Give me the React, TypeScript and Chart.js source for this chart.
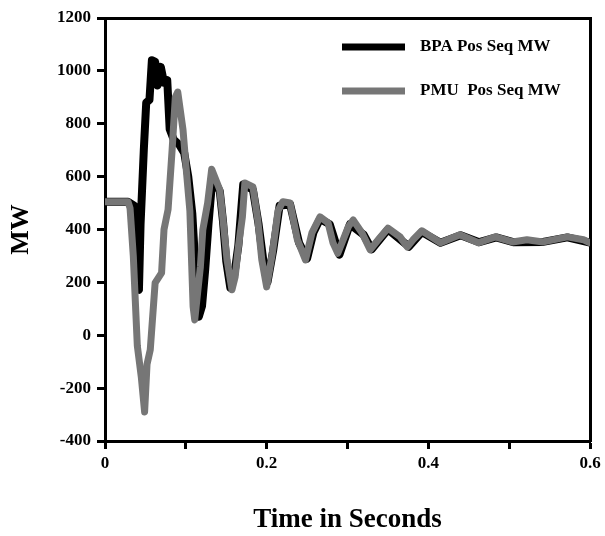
import React, { useEffect, useRef } from "react";
import { Chart, registerables } from "chart.js";

Chart.register(...registerables);

// ---- data ----
const pmuTime = [
  0, 0.0285, 0.031, 0.035, 0.040, 0.045, 0.049, 0.052, 0.056, 0.062, 0.070, 0.073, 0.078,
  0.083, 0.087, 0.090, 0.0965, 0.101, 0.105, 0.109, 0.111, 0.118, 0.121, 0.127, 0.132,
  0.142, 0.146, 0.151, 0.157, 0.161, 0.165, 0.170, 0.173, 0.183, 0.189, 0.194, 0.200,
  0.207, 0.214, 0.220, 0.229, 0.238, 0.248, 0.256, 0.266, 0.276, 0.282, 0.288, 0.301,
  0.307, 0.318, 0.328, 0.338, 0.350, 0.365, 0.374, 0.381, 0.392, 0.415, 0.439, 0.462,
  0.483, 0.504, 0.522, 0.542, 0.572, 0.592, 0.600,
];
const pmuMW = [
  505, 505, 480, 300, -40, -160, -290, -110, -55, 198, 236, 400, 475,
  700, 900, 920, 777, 610, 470, 108, 58, 259, 399, 501, 628,
  550, 436, 285, 172, 221, 334, 448, 576, 561, 436, 285, 183,
  310, 470, 505, 500, 361, 285, 387, 448, 425, 350, 310, 410,
  436, 387, 323, 361, 405, 372, 334, 361, 395, 350, 380, 350,
  372, 353, 361, 353, 372, 361, 350,
];
const bpaTime = [
  0, 0.0285, 0.036, 0.040, 0.042, 0.044, 0.048, 0.051, 0.055, 0.058, 0.062, 0.065, 0.069,
  0.073, 0.077, 0.080, 0.085, 0.092, 0.098, 0.103, 0.108, 0.112, 0.116, 0.120, 0.124,
  0.128, 0.133, 0.142, 0.146, 0.150, 0.155, 0.160, 0.165, 0.171, 0.183, 0.190, 0.196,
  0.201, 0.208, 0.216, 0.229, 0.240, 0.250, 0.258, 0.266, 0.278, 0.290, 0.303, 0.320,
  0.330, 0.350, 0.376, 0.392, 0.415, 0.440, 0.463, 0.484, 0.505, 0.542, 0.572, 0.600,
];
const bpaMW = [
  505, 505, 490, 175, 172, 420, 700, 880, 890, 1040, 1035, 945, 1015,
  955, 965, 780, 740, 720, 690, 600, 460, 250, 70, 110, 250,
  420, 600, 545, 430, 280, 180, 230, 340, 570, 550, 420, 280,
  200, 320, 490, 495, 350, 290, 390, 440, 420, 305, 420, 380,
  325, 400, 335, 390, 350, 378, 352, 370, 352, 353, 370, 350,
];
const xTickLabels = ["0", "", "0.2", "", "0.4", "", "0.6"];
const seriesLabels = ["BPA Pos Seq MW", "PMU  Pos Seq MW"];
const xTitle = "Time in Seconds";
const yTitle = "MW";

const FONT = "'Liberation Serif', 'Times New Roman', serif";
const BLACK = "#000000";
const GRAY = "#767676";

const legendPlugin = {
  id: "inlineLegend",
  afterDatasetsDraw(chart: any) {
    const ctx = chart.ctx;
    ctx.save();
    chart.data.datasets.forEach((ds: any, i: number) => {
      const y = 47 + i * 44;
      ctx.beginPath();
      ctx.strokeStyle = ds.borderColor;
      ctx.lineWidth = 7;
      ctx.moveTo(342, y);
      ctx.lineTo(405, y);
      ctx.stroke();
      ctx.fillStyle = BLACK;
      ctx.font = `bold 17px ${FONT}`;
      ctx.textBaseline = "middle";
      ctx.textAlign = "left";
      ctx.fillText(ds.label, 420, y);
    });
    ctx.restore();
  },
};

export default function App() {
  const ref = useRef<HTMLCanvasElement | null>(null);
  useEffect(() => {
    if (!ref.current) return;
    const pmuPts = pmuTime.map((t, i) => ({ x: t, y: pmuMW[i] }));
    const bpaPts = bpaTime.map((t, i) => ({ x: t, y: bpaMW[i] }));
    const axisCommon = {
      border: { display: true, color: BLACK, width: 3 },
    };
    const chart = new Chart(ref.current, {
      type: "line",
      data: {
        datasets: [
          {
            label: seriesLabels[0],
            data: bpaPts,
            borderColor: BLACK,
            borderWidth: 8,
            pointRadius: 0,
            tension: 0,
            borderJoinStyle: "round",
            borderCapStyle: "round",
            order: 2,
          },
          {
            label: seriesLabels[1],
            data: pmuPts,
            borderColor: GRAY,
            borderWidth: 7,
            pointRadius: 0,
            tension: 0,
            borderJoinStyle: "round",
            borderCapStyle: "round",
            order: 1,
          },
        ],
      },
      options: {
        animation: false,
        responsive: false,
        maintainAspectRatio: false,
        events: [],
        layout: { padding: { left: 0, top: 18, right: 15, bottom: 0 } },
        plugins: { legend: { display: false }, tooltip: { enabled: false } },
        scales: {
          x: {
            type: "linear",
            position: "bottom",
            min: 0,
            max: 0.6,
            ...axisCommon,
            grid: { drawOnChartArea: false, drawTicks: true, tickLength: 8, tickWidth: 3, tickColor: BLACK },
            ticks: {
              stepSize: 0.1,
              autoSkip: false,
              maxRotation: 0,
              padding: 4,
              color: BLACK,
              font: { family: FONT, size: 17, weight: "bold" },
              callback: (v: any) => {
                const idx = Math.round(Number(v) * 10);
                return xTickLabels[idx] ?? "";
              },
            },
            title: {
              display: true,
              text: xTitle,
              color: BLACK,
              font: { family: FONT, size: 27, weight: "bold" },
              padding: { top: 0, bottom: 0 },
            },
            afterFit: (s: any) => {
              s.height = 95;
            },
          },
          y: {
            type: "linear",
            position: "left",
            min: -400,
            max: 1200,
            ...axisCommon,
            grid: { drawOnChartArea: false, drawTicks: true, tickLength: 8, tickWidth: 3, tickColor: BLACK },
            ticks: {
              stepSize: 200,
              padding: 6,
              color: BLACK,
              font: { family: FONT, size: 17, weight: "bold" },
              callback: (v: any) => String(Math.round(Number(v))),
            },
            title: {
              display: true,
              text: yTitle,
              color: BLACK,
              font: { family: FONT, size: 26, weight: "bold" },
              padding: { top: 6, bottom: 0 },
            },
            afterFit: (s: any) => {
              s.width = 105;
            },
          },
          x2: {
            type: "linear",
            position: "top",
            min: 0,
            max: 0.6,
            ...axisCommon,
            grid: { drawOnChartArea: false, drawTicks: false },
            ticks: { display: false },
            afterFit: (s: any) => {
              s.height = 0;
            },
          },
          y2: {
            type: "linear",
            position: "right",
            min: -400,
            max: 1200,
            ...axisCommon,
            grid: { drawOnChartArea: false, drawTicks: false },
            ticks: { display: false },
            afterFit: (s: any) => {
              s.width = 0;
            },
          },
        },
      },
      plugins: [legendPlugin],
    } as any);
    return () => chart.destroy();
  }, []);
  return (
    <div style={{ position: "absolute", left: 0, top: 0, width: 605, height: 536, background: "#fff" }}>
      <canvas ref={ref} width={605} height={536} />
    </div>
  );
}
